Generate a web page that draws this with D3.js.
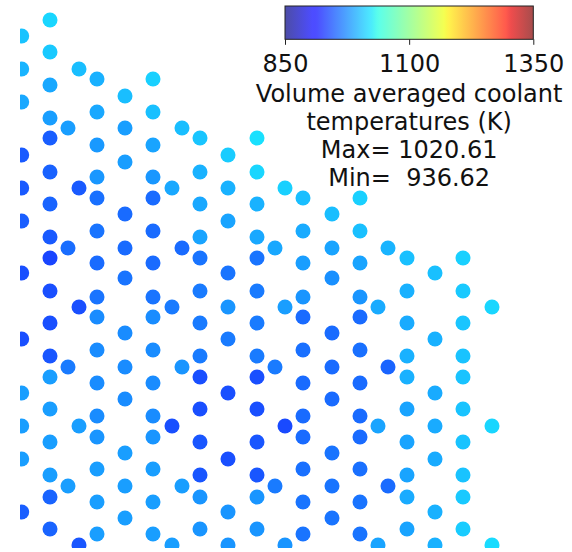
<!DOCTYPE html>
<html>
<head>
<meta charset="utf-8">
<script src="https://cdn.jsdelivr.net/npm/d3@7"></script>
<style>
  html, body { margin: 0; padding: 0; background: #fff; }
  svg { display: block; }
  text { font-family: "DejaVu Sans", sans-serif; fill: #111; }
</style>
</head>
<body>
<svg id="chart" width="572" height="552"></svg>
<script>
// Coolant channel positions (cm), grouped by column, and the volume averaged temperature (K) in each
const columnX = [0.17, 3.0, 4.8, 5.9, 7.7, 10.5, 13.3, 15.2, 16.2, 18.0, 20.8, 23.7,
                 25.5, 26.5, 28.3, 31.2, 34.0, 35.8, 36.8, 38.7, 41.5, 44.3, 47.2];

const columnY = [
  [51.2, 47.9, 44.6, 39.3, 36.0, 32.7, 27.5, 20.9, 15.5, 12.2, 8.9, 3.6],
  [52.8, 49.6, 46.3, 43.0, 41.0, 37.6, 34.4, 31.1, 29.0, 25.7, 22.5, 19.2, 17.1, 13.9, 10.6, 7.3, 5.1, 1.9],
  [42.0, 30.0, 18.1, 6.2],
  [47.9, 36.0, 24.1, 12.2, 0.3],
  [46.9, 43.6, 40.3, 37.1, 35.0, 31.7, 28.5, 25.1, 23.1, 19.8, 16.5, 13.2, 11.1, 7.9, 4.6, 1.4],
  [45.2, 42.0, 38.6, 33.4, 30.0, 27.0, 21.5, 18.1, 14.9, 9.5, 6.2, 3.0],
  [46.9, 43.6, 40.3, 37.1, 35.0, 31.7, 28.5, 25.1, 23.1, 19.8, 16.5, 13.2, 11.1, 7.9, 4.6, 1.4],
  [36.0, 24.1, 12.2, 0.3],
  [42.0, 30.0, 18.1, 6.2],
  [41.0, 37.6, 34.4, 31.1, 29.0, 25.7, 22.5, 19.2, 17.1, 13.9, 10.6, 7.3, 5.1, 1.9],
  [39.3, 36.0, 32.7, 27.5, 24.1, 20.9, 15.5, 8.9, 3.6, 0.3],
  [41.0, 37.6, 34.4, 31.1, 29.0, 25.7, 22.5, 19.2, 17.1, 13.9, 10.6, 7.3, 5.1, 1.9],
  [30.0, 18.1, 6.2],
  [36.0, 24.1, 12.2, 0.3],
  [35.0, 31.7, 28.5, 25.1, 23.1, 19.8, 16.5, 13.2, 11.1, 7.9, 4.6, 1.4],
  [33.4, 30.0, 27.0, 21.5, 18.1, 14.9, 9.5, 6.2, 3.0],
  [35.0, 31.7, 28.5, 25.1, 23.1, 19.8, 16.5, 13.2, 11.1, 7.9, 4.6, 1.4],
  [24.1, 12.2, 0.3],
  [30.0, 18.1, 6.2],
  [29.0, 25.7, 22.5, 19.2, 17.1, 13.9, 10.6, 7.3, 5.1, 1.9],
  [27.5, 20.9, 15.5, 12.2, 8.9, 3.6, 0.3],
  [29.0, 25.7, 22.5, 19.2, 17.1, 13.9, 10.6, 7.3, 5.1, 1.9],
  [24.1, 12.2, 0.3]
];

const columnT = [
  [1005, 997, 990, 948, 948, 950, 942, 942, 985, 985, 985, 950],
  [1015, 1008, 990, 985, 950, 952, 953, 948, 936.62, 942, 942, 946, 985, 985, 985, 985, 953, 953],
  [985, 958, 966, 985],
  [1002, 948, 942, 985, 946],
  [995, 990, 982, 981, 960, 962, 957, 962, 975, 975, 975, 975, 980, 985, 985, 985],
  [1002, 985, 985, 957, 957, 962, 975, 975, 975, 985, 985, 985],
  [1012, 1003, 988, 981, 957, 957, 957, 962, 975, 975, 975, 975, 980, 985, 985, 985],
  [990, 966, 942, 985],
  [1002, 957, 980, 985],
  [1006, 996, 990, 988, 962, 966, 966, 966, 942, 942, 946, 946, 980, 980],
  [1010, 996, 988, 962, 980, 966, 942, 942, 980, 980],
  [1020.61, 1015, 996, 990, 962, 966, 966, 966, 942, 942, 946, 946, 980, 980],
  [990, 966, 966],
  [1012, 985, 939, 980],
  [1002, 992, 985, 980, 957, 960, 957, 957, 957, 960, 962, 962],
  [1002, 988, 977, 957, 957, 957, 962, 962, 962],
  [1012, 1003, 988, 980, 957, 960, 957, 957, 957, 960, 962, 962],
  [992, 988, 988],
  [997, 953, 957],
  [1003, 995, 992, 995, 995, 988, 988, 988, 992, 988],
  [1003, 995, 992, 992, 992, 995, 995],
  [1012, 1008, 1006, 1005, 1005, 1005, 1005, 1005, 1008, 1010],
  [1015, 1015, 1018]
];

const colorRange = [850, 1350];
const colorTicks = [850, 1100, 1350];
const labelLines = ["Volume averaged coolant", "temperatures (K)"];

// Flatten the columns into one record per channel
const channels = [];
columnX.forEach((cx, i) => {
  columnY[i].forEach((cy, j) => channels.push({ x: cx, y: cy, t: columnT[i][j] }));
});
const tMax = d3.max(channels, d => d.t);
const tMin = d3.min(channels, d => d.t);

// Matplotlib "jet" colormap, piecewise linear per channel
const jetR = d3.scaleLinear().domain([0, 0.35, 0.66, 0.89, 1]).range([0, 0, 1, 1, 0.5]).clamp(true);
const jetG = d3.scaleLinear().domain([0, 0.125, 0.375, 0.64, 0.91, 1]).range([0, 0, 1, 1, 0, 0]).clamp(true);
const jetB = d3.scaleLinear().domain([0, 0.11, 0.34, 0.65, 1]).range([0.5, 1, 1, 0, 0]).clamp(true);
const norm = d3.scaleLinear().domain(colorRange).range([0, 1]).clamp(true);
const jet = v => {
  const s = norm(v);
  return d3.rgb(255 * jetR(s), 255 * jetG(s), 255 * jetB(s)).formatHex();
};

const svg = d3.select("#chart");

// Channel map
const x = d3.scaleLinear().domain([0, 55.2]).range([20, 572]);
const y = d3.scaleLinear().domain([0, 54.8]).range([548, 0]);

svg.append("defs").append("clipPath").attr("id", "plot-clip")
  .append("rect").attr("x", x(0)).attr("y", y(54.8))
  .attr("width", x(55.2) - x(0)).attr("height", y(0) - y(54.8));

svg.append("g").attr("clip-path", "url(#plot-clip)")
  .selectAll("circle").data(channels).join("circle")
  .attr("cx", d => x(d.x))
  .attr("cy", d => y(d.y))
  .attr("r", 7.5)
  .attr("fill", d => jet(d.t))
  .attr("fill-opacity", 0.9);

// Horizontal colorbar
const cb = d3.scaleLinear().domain(colorRange).range([285, 533.3]);
const cbTop = 6, cbH = 33.3;

const grad = svg.select("defs").append("linearGradient")
  .attr("id", "jet-grad").attr("x1", "0%").attr("x2", "100%").attr("y1", "0%").attr("y2", "0%");
grad.selectAll("stop").data(d3.range(0, 1.0001, 0.01)).join("stop")
  .attr("offset", s => (s * 100) + "%")
  .attr("stop-color", s => jet(colorRange[0] + s * (colorRange[1] - colorRange[0])))
  .attr("stop-opacity", 0.7);

svg.append("rect")
  .attr("x", cb(colorRange[0])).attr("y", cbTop)
  .attr("width", cb(colorRange[1]) - cb(colorRange[0])).attr("height", cbH)
  .attr("fill", "url(#jet-grad)")
  .attr("stroke", "#222").attr("stroke-width", 1);

const cbAxis = svg.append("g")
  .attr("transform", `translate(0,${cbTop + cbH})`)
  .call(d3.axisBottom(cb).tickValues(colorTicks).tickSize(5.5).tickPadding(10).tickFormat(d3.format("d")));
cbAxis.select(".domain").remove();
cbAxis.selectAll(".tick line").attr("stroke", "#222").attr("stroke-width", 1);
cbAxis.selectAll(".tick text")
  .style("font-family", "DejaVu Sans").style("font-size", "24px").attr("fill", "#111");
cbAxis.attr("font-family", null).attr("font-size", null);

// Colorbar label with the extremes
const fmt = d3.format(".2f");
const lines = labelLines.concat([`Max= ${fmt(tMax)}`, `Min=  ${fmt(tMin)}`]);
svg.append("text")
  .attr("x", cb(1100)).attr("text-anchor", "middle")
  .style("font-size", "24px").style("white-space", "pre")
  .selectAll("tspan").data(lines).join("tspan")
  .attr("x", cb(1100))
  .attr("y", (d, i) => 102 + i * 28)
  .text(d => d);
</script>
</body>
</html>
